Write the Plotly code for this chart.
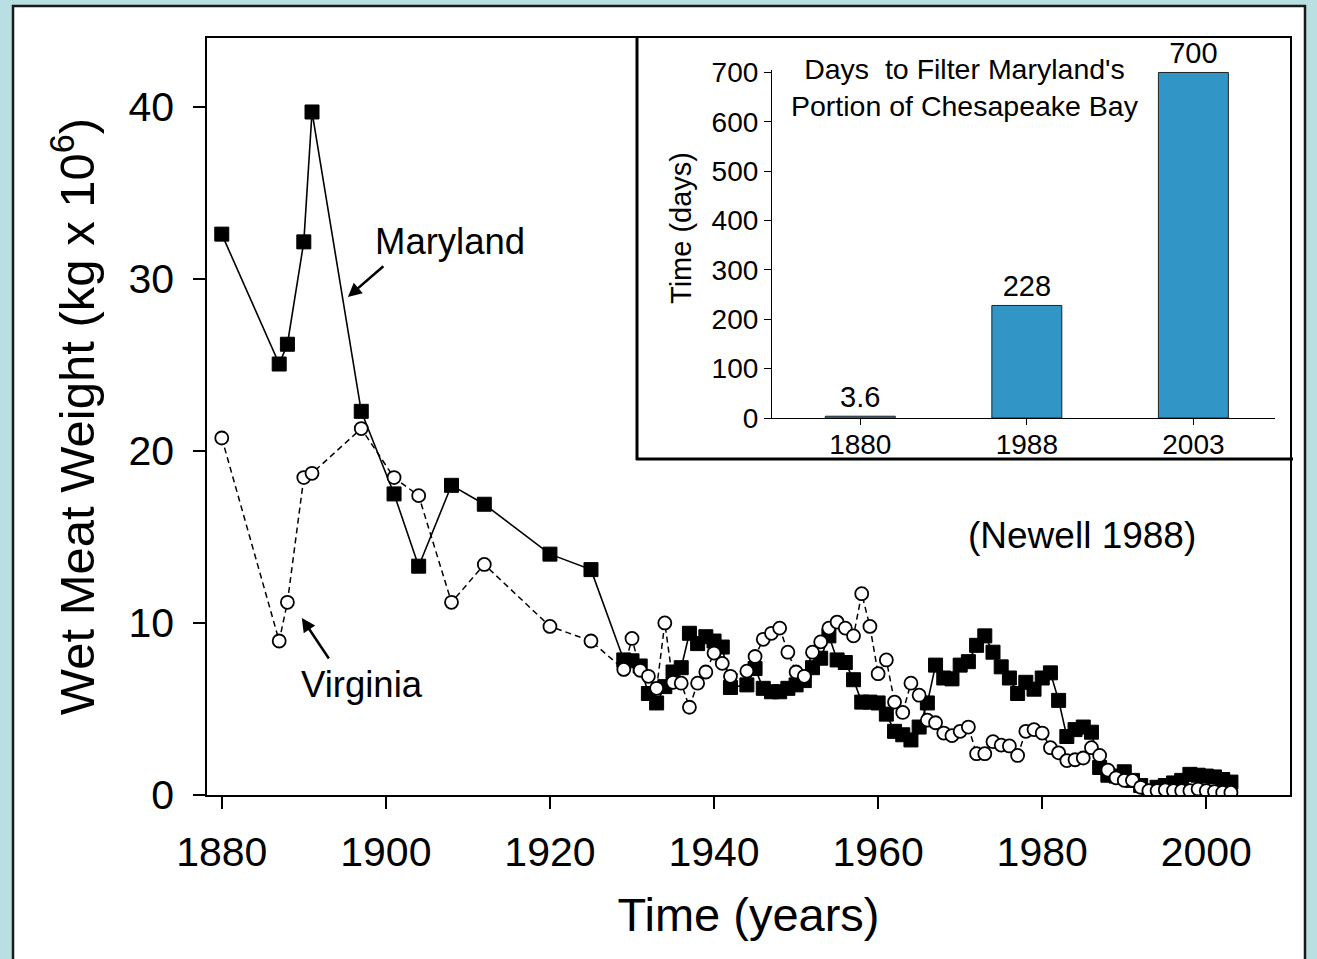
import plotly.graph_objects as go

# ---------------- data ----------------
md_years = [1880, 1887, 1888, 1890, 1891, 1897, 1901, 1904, 1908, 1912, 1920, 1925,
            1929, 1930, 1931, 1932, 1933, 1934, 1935, 1936, 1937, 1938, 1939, 1940,
            1941, 1942, 1944, 1945, 1946, 1947, 1948, 1949, 1950, 1951, 1952, 1953,
            1954, 1955, 1956, 1957, 1958, 1959, 1960, 1961, 1962, 1963, 1964, 1965,
            1966, 1967, 1968, 1969, 1970, 1971, 1972, 1973, 1974, 1975, 1976, 1977,
            1978, 1979, 1980, 1981, 1982, 1983, 1984, 1985, 1986, 1987, 1988, 1989,
            1990, 1991, 1992, 1993, 1994, 1995, 1996, 1997, 1998, 1999, 2000, 2001,
            2002, 2003]
md_values = [32.6, 25.05, 26.2, 32.15, 39.7, 22.3, 17.5, 13.3, 18.0, 16.9, 14.0, 13.1,
             7.85, 7.8, 7.5, 5.9, 5.35, 6.3, 7.15, 7.4, 9.4, 8.8, 9.2, 8.95,
             8.6, 6.25, 6.4, 7.35, 6.2, 6.0, 6.0, 6.2, 6.4, 6.65, 7.4, 7.95,
             9.25, 7.85, 7.7, 6.7, 5.4, 5.4, 5.35, 4.7, 3.7, 3.5, 3.2, 3.95,
             5.35, 7.55, 6.8, 6.75, 7.55, 7.75, 8.7, 9.25, 8.3, 7.45, 6.8, 5.9,
             6.55, 6.15, 6.8, 7.1, 5.5, 3.4, 3.8, 3.95, 3.65, 1.6, 1.15, 1.1,
             1.35, 0.85, 0.55, 0.1, 0.45, 0.55, 0.7, 0.85, 1.2, 1.15, 1.1, 1.05,
             0.9, 0.75]

va_years = list(md_years)
va_values = [20.75, 8.95, 11.2, 18.45, 18.7, 21.3, 18.45, 17.4, 11.2, 13.4, 9.8, 8.95,
             7.3, 9.1, 7.25, 6.9, 6.2, 10.0, 6.55, 6.5, 5.1, 6.5, 7.15, 8.25,
             7.65, 6.9, 7.2, 8.05, 9.05, 9.4, 9.7, 8.3, 7.15, 6.9, 8.3, 8.9,
             9.7, 10.05, 9.7, 9.25, 11.7, 9.8, 7.05, 7.85, 5.4, 4.8, 6.5, 5.8,
             4.35, 4.2, 3.6, 3.45, 3.7, 3.95, 2.4, 2.4, 3.1, 2.9, 2.85, 2.3,
             3.7, 3.8, 3.6, 2.75, 2.45, 2.0, 2.05, 2.15, 2.75, 2.3, 1.45, 1.0,
             0.85, 0.85, 0.45, 0.25, 0.25, 0.3, 0.25, 0.25, 0.25, 0.35, 0.25, 0.2,
             0.15, 0.15]

inset_years = ["1880", "1988", "2003"]
inset_days = [3.6, 228, 700]
inset_labels = ["3.6", "228", "700"]

FONT = "Liberation Sans, Arial, sans-serif"
BLUE = "#3196c6"

# ---------------- layout geometry (pixels) ----------------
W, H = 1317, 959
L, R, T, B = 207, 1290, 38, 795          # main plot area
pw, ph = R - L, B - T


def px(x):
    return (x - L) / pw


def py(y):
    return (B - y) / ph


fig = go.Figure()

fig.add_trace(go.Scatter(
    x=md_years, y=md_values, mode="lines+markers", name="Maryland",
    line=dict(color="black", width=1.6),
    marker=dict(symbol="square", size=14, color="black",
                line=dict(color="black", width=1)),
    xaxis="x", yaxis="y", showlegend=False))

fig.add_trace(go.Scatter(
    x=va_years, y=va_values, mode="lines+markers", name="Virginia",
    line=dict(color="black", width=1.5, dash="6px,4px"),
    marker=dict(symbol="circle", size=13, color="white",
                line=dict(color="black", width=1.8)),
    xaxis="x", yaxis="y", showlegend=False))

fig.add_trace(go.Bar(
    x=inset_years, y=inset_days, text=inset_labels, textposition="outside",
    textfont=dict(family=FONT, size=29, color="black"),
    cliponaxis=False, width=0.42,
    marker=dict(color=BLUE, line=dict(color="#222222", width=1)),
    xaxis="x2", yaxis="y2", showlegend=False))

fig.update_layout(
    width=W, height=H,
    margin=dict(l=L, r=W - R, t=T, b=H - B, pad=0),
    paper_bgcolor="#b9dfe2",
    plot_bgcolor="white",
    font=dict(family=FONT, color="black"),
    xaxis=dict(
        domain=[0, 1], range=[1878.2, 2010.2], tickmode="array",
        tickvals=[1880, 1900, 1920, 1940, 1960, 1980, 2000],
        ticks="outside", ticklen=12, tickwidth=1.5, tickcolor="black",
        tickfont=dict(size=41), ticklabelstandoff=8,
        showgrid=False, zeroline=False,
        showline=True, linecolor="black", linewidth=1.5, mirror=True,
        title=dict(text="Time (years)", font=dict(size=47), standoff=24),
        anchor="y"),
    yaxis=dict(
        domain=[0, 1], range=[0, 44], tickmode="array",
        tickvals=[0, 10, 20, 30, 40],
        ticks="outside", ticklen=12, tickwidth=1.5, tickcolor="black",
        tickfont=dict(size=41), ticklabelstandoff=11,
        showgrid=False, zeroline=False,
        showline=True, linecolor="black", linewidth=1.5, mirror=True,
        title=dict(text="Wet Meat Weight (kg x 10<sup>6</sup>)",
                   font=dict(size=49), standoff=18),
        anchor="x"),
    xaxis2=dict(
        domain=[px(772), px(1275)], range=[-0.53, 2.49], type="category",
        ticks="outside", ticklen=6, tickwidth=1, tickcolor="black",
        tickfont=dict(size=28), ticklabelstandoff=-5,
        showgrid=False, zeroline=False,
        showline=True, linecolor="black", linewidth=1.2,
        anchor="y2"),
    yaxis2=dict(
        domain=[py(418), py(70)], range=[0, 705],
        tickvals=[0, 100, 200, 300, 400, 500, 600, 700],
        ticks="outside", ticklen=7, tickwidth=1, tickcolor="black",
        tickfont=dict(size=28), showgrid=False, zeroline=False,
        showline=True, linecolor="black", linewidth=1.2,
        anchor="x2"),
    shapes=[
        # white panel with border
        dict(type="rect", xref="paper", yref="paper", layer="below",
             x0=px(13), x1=px(1305), y0=py(975), y1=py(6),
             fillcolor="white", line=dict(color="#1a1a1a", width=2.5)),
        # inset frame
        dict(type="line", xref="paper", yref="paper",
             x0=px(637), x1=px(637), y0=py(T), y1=py(460),
             line=dict(color="black", width=3)),
        dict(type="line", xref="paper", yref="paper",
             x0=px(636), x1=px(1293), y0=py(459), y1=py(459),
             line=dict(color="black", width=3)),
    ],
    annotations=[
        dict(x=1907.8, y=32.15, xref="x", yref="y", text="Maryland",
             showarrow=False, font=dict(size=36.5),
             xanchor="center", yanchor="middle"),
        dict(x=1895.37, y=28.95, xref="x", yref="y", text="",
             showarrow=True, arrowhead=2, arrowsize=1.1, arrowwidth=2.5,
             arrowcolor="black", ax=37, ay=-32),
        dict(x=1897.07, y=6.45, xref="x", yref="y", text="Virginia",
             showarrow=False, font=dict(size=36.5),
             xanchor="center", yanchor="middle"),
        dict(x=1889.76, y=10.29, xref="x", yref="y", text="",
             showarrow=True, arrowhead=2, arrowsize=1.1, arrowwidth=2.5,
             arrowcolor="black", ax=28, ay=42),
        dict(x=1984.9, y=15.1, xref="x", yref="y", text="(Newell 1988)",
             showarrow=False, font=dict(size=37),
             xanchor="center", yanchor="middle"),
        dict(x=px(965), y=py(88), xref="paper", yref="paper",
             text="Days  to Filter Maryland's<br>Portion of Chesapeake Bay",
             showarrow=False, font=dict(size=28.5), align="center",
             xanchor="center", yanchor="middle"),
        dict(x=px(681), y=py(228), xref="paper", yref="paper",
             text="Time (days)", textangle=-90,
             showarrow=False, font=dict(size=29),
             xanchor="center", yanchor="middle"),
    ],
)

fig.write_html("out.html")
